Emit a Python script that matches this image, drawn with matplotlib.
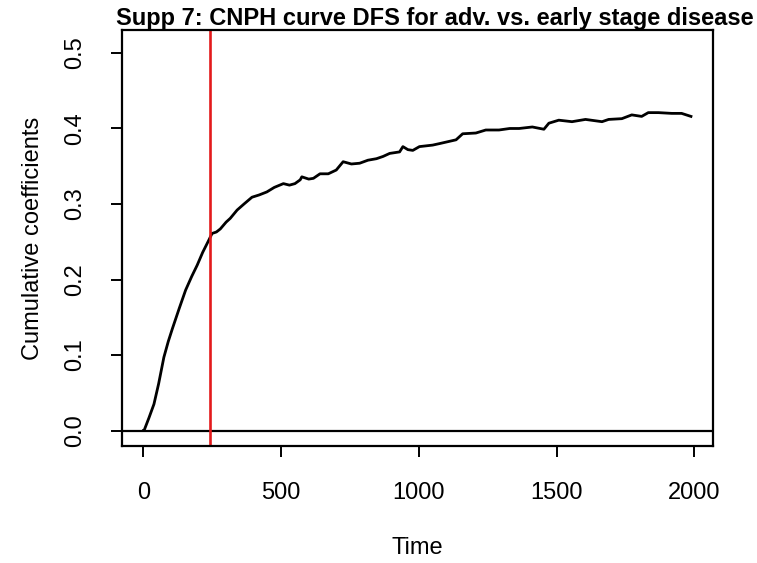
import matplotlib
matplotlib.use("Agg")
import matplotlib.pyplot as plt

plt.rcParams['font.family'] = ['Liberation Sans', 'DejaVu Sans']

time = [0, 2, 20, 38, 55, 74, 90, 105, 130, 153, 175, 195, 215, 237, 249, 265, 279, 300, 315, 340,
        365, 394, 420, 448, 475, 508, 530, 550, 569, 575, 600, 617, 641, 671, 700, 725, 755, 785,
        815, 846, 870, 894, 930, 942, 960, 978, 1002, 1050, 1075, 1099, 1135, 1159, 1207, 1243,
        1291, 1330, 1364, 1412, 1454, 1472, 1508, 1556, 1605, 1665, 1689, 1737, 1773, 1809, 1833,
        1870, 1918, 1954, 1988]
coef = [0.0, 0.0, 0.017, 0.035, 0.062, 0.097, 0.118, 0.135, 0.162, 0.186, 0.204, 0.219, 0.236,
        0.252, 0.261, 0.263, 0.267, 0.276, 0.281, 0.292, 0.300, 0.309, 0.312, 0.316, 0.322, 0.327,
        0.325, 0.327, 0.332, 0.336, 0.333, 0.334, 0.340, 0.340, 0.345, 0.356, 0.353, 0.354, 0.358,
        0.360, 0.363, 0.367, 0.369, 0.376, 0.372, 0.371, 0.376, 0.378, 0.380, 0.382, 0.385, 0.393,
        0.394, 0.398, 0.398, 0.400, 0.400, 0.402, 0.399, 0.407, 0.411, 0.409, 0.412, 0.409, 0.412,
        0.413, 0.418, 0.416, 0.421, 0.421, 0.420, 0.420, 0.416]
cut_time = 240
xticks = [0, 500, 1000, 1500, 2000]
yticks = [0.0, 0.1, 0.2, 0.3, 0.4, 0.5]
title = "Supp 7: CNPH curve DFS for adv. vs. early stage disease"

W, H = 757, 563
fig = plt.figure(figsize=(W / 100, H / 100), dpi=100)
left, right, top, bottom = 122, 713, 30, 446
ax = fig.add_axes([left / W, 1 - bottom / H, (right - left) / W, (bottom - top) / H])

ax.plot(time, coef, color='black', lw=2.0)
ax.axhline(0, color='black', lw=1.6)
ax.axvline(cut_time, color='#e31a1c', lw=1.9)

ax.set_xlim(-78, 2068)
ax.set_ylim(-0.0204, 0.5304)
ax.set_xticks(xticks)
ax.set_xticklabels([str(t) for t in xticks])
ax.set_yticks(yticks)
ax.set_yticklabels([f"{v:.1f}" for v in yticks], rotation=90, va='center')
ax.tick_params(direction='out', length=8, width=1.4, labelsize=17)
ax.tick_params(axis='x', pad=18)
ax.tick_params(axis='y', pad=18)
for s in ax.spines.values():
    s.set_linewidth(1.6)

ax.set_xlabel("Time", fontsize=17, labelpad=24)
ax.set_ylabel("Cumulative coefficients", fontsize=17, labelpad=14)
fig.text(435 / W, 1 - 18 / H, title, ha='center', va='center', fontsize=17, fontweight='bold')

fig.savefig("out.png", dpi=100)
